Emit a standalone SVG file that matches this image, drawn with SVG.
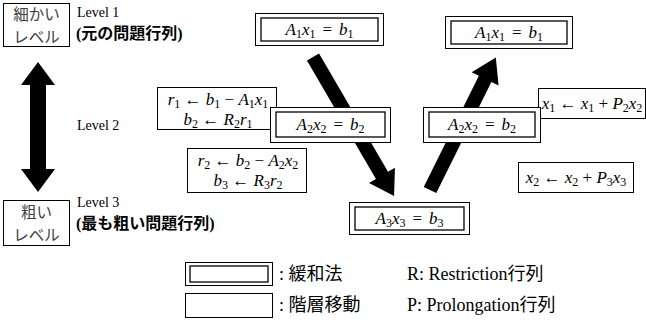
<svg xmlns="http://www.w3.org/2000/svg" width="646" height="320" viewBox="0 0 646 320">
<style>
.bx{fill:#fff;stroke:#000;stroke-width:1}
.ob{fill:#fff;stroke:#000;stroke-width:1}
.ib{fill:none;stroke:#000;stroke-width:1.3}
.jp{font-family:"Noto Sans CJK JP",sans-serif;font-size:15.5px;fill:#404040}
.lv{font-family:"Liberation Serif","Noto Sans CJK JP",serif;font-size:14px;fill:#000}
.lvb{font-family:"Liberation Serif","Noto Sans CJK JP",serif;font-size:16px;fill:#000;font-weight:bold}
.m{font-family:"Liberation Serif","DejaVu Serif",serif;font-size:17px;fill:#000;font-style:italic}
.u{font-style:normal}
.s{font-size:12px;font-style:normal}
.lg{font-family:"Liberation Serif","Noto Sans CJK JP",serif;font-size:18px;fill:#000}
.ar{fill:#000}
</style>

<g id="connectors">
  <g transform="translate(38,62)">
    <polygon class="ar" points="0,0 17,23 8,23 8,107 17,107 0,130 -17,107 -8,107 -8,23 -17,23"/>
  </g>
  <g transform="translate(313,57) rotate(59.77)">
    <polygon class="ar" points="0,-7 137,-7 137,-15 161,0 137,15 137,7 0,7"/>
  </g>
  <g transform="translate(430,190) rotate(-63.6)">
    <polygon class="ar" points="0,-7 124,-7 124,-15 148,0 124,15 124,7 0,7"/>
  </g>
</g>

<g id="fine-level">
  <rect class="bx" x="3.5" y="3.5" width="66" height="43"/>
  <text class="jp" x="36.5" y="20" text-anchor="middle">細かい</text>
  <text class="jp" x="36.5" y="42.5" text-anchor="middle">レベル</text>
</g>
<g id="level1-label">
  <text class="lv" x="77" y="17">Level 1</text>
  <text class="lvb" x="76" y="39">(元の問題行列)</text>
</g>
<g id="level2-label">
  <text class="lv" x="77" y="130">Level 2</text>
</g>
<g id="coarse-level">
  <rect class="bx" x="3.5" y="200.5" width="66" height="45"/>
  <text class="jp" x="36.5" y="218" text-anchor="middle">粗い</text>
  <text class="jp" x="36.5" y="240.5" text-anchor="middle">レベル</text>
</g>
<g id="level3-label">
  <text class="lv" x="77" y="207">Level 3</text>
  <text class="lvb" x="76" y="229">(最も粗い問題行列)</text>
</g>

<g id="restrict1">
  <rect class="bx" x="157.5" y="87.5" width="119" height="42"/>
  <text class="m" x="218" y="105" text-anchor="middle">r<tspan class="s" dy="3">1</tspan><tspan class="u" dy="-3"> ← </tspan>b<tspan class="s" dy="3">1</tspan><tspan class="u" dy="-3"> − </tspan>A<tspan class="s" dy="3">1</tspan><tspan dy="-3">x</tspan><tspan class="s" dy="3">1</tspan></text>
  <text class="m" x="218" y="125" text-anchor="middle">b<tspan class="s" dy="3">2</tspan><tspan class="u" dy="-3"> ← </tspan>R<tspan class="s" dy="3">2</tspan><tspan dy="-3">r</tspan><tspan class="s" dy="3">1</tspan></text>
</g>

<g id="restrict2">
  <rect class="bx" x="187.5" y="148.5" width="119" height="44"/>
  <text class="m" x="248" y="166" text-anchor="middle">r<tspan class="s" dy="3">2</tspan><tspan class="u" dy="-3"> ← </tspan>b<tspan class="s" dy="3">2</tspan><tspan class="u" dy="-3"> − </tspan>A<tspan class="s" dy="3">2</tspan><tspan dy="-3">x</tspan><tspan class="s" dy="3">2</tspan></text>
  <text class="m" x="248" y="186" text-anchor="middle">b<tspan class="s" dy="3">3</tspan><tspan class="u" dy="-3"> ← </tspan>R<tspan class="s" dy="3">3</tspan><tspan dy="-3">r</tspan><tspan class="s" dy="3">2</tspan></text>
</g>

<g id="smooth-A1-down">
  <rect class="ob" x="255.5" y="13.5" width="128" height="32"/>
  <rect class="ib" x="261" y="18" width="117" height="23"/>
  <text class="m" x="319.5" y="35" text-anchor="middle">A<tspan class="s" dy="3">1</tspan><tspan dy="-3">x</tspan><tspan class="s" dy="3">1</tspan><tspan class="u" dy="-3" dx="7">=</tspan><tspan dx="7">b</tspan><tspan class="s" dy="3">1</tspan></text>
</g>

<g id="smooth-A1-up">
  <rect class="ob" x="445.5" y="16.5" width="127" height="32"/>
  <rect class="ib" x="451" y="21" width="116" height="23"/>
  <text class="m" x="509" y="38" text-anchor="middle">A<tspan class="s" dy="3">1</tspan><tspan dy="-3">x</tspan><tspan class="s" dy="3">1</tspan><tspan class="u" dy="-3" dx="7">=</tspan><tspan dx="7">b</tspan><tspan class="s" dy="3">1</tspan></text>
</g>

<g id="prolong1">
  <rect class="bx" x="538.5" y="88.5" width="107" height="30"/>
  <text class="m" x="592" y="109" text-anchor="middle">x<tspan class="s" dy="3">1</tspan><tspan class="u" dy="-3"> ← </tspan>x<tspan class="s" dy="3">1</tspan><tspan class="u" dy="-3"> + </tspan>P<tspan class="s" dy="3">2</tspan><tspan dy="-3">x</tspan><tspan class="s" dy="3">2</tspan></text>
</g>

<g id="smooth-A2-down">
  <rect class="ob" x="270.5" y="107.5" width="120" height="35"/>
  <rect class="ib" x="276" y="112" width="109" height="25"/>
  <text class="m" x="330.5" y="130" text-anchor="middle">A<tspan class="s" dy="3">2</tspan><tspan dy="-3">x</tspan><tspan class="s" dy="3">2</tspan><tspan class="u" dy="-3" dx="7">=</tspan><tspan dx="7">b</tspan><tspan class="s" dy="3">2</tspan></text>
</g>

<g id="smooth-A2-up">
  <rect class="ob" x="423.5" y="107.5" width="117" height="35"/>
  <rect class="ib" x="429" y="112" width="106" height="25"/>
  <text class="m" x="482" y="130" text-anchor="middle">A<tspan class="s" dy="3">2</tspan><tspan dy="-3">x</tspan><tspan class="s" dy="3">2</tspan><tspan class="u" dy="-3" dx="7">=</tspan><tspan dx="7">b</tspan><tspan class="s" dy="3">2</tspan></text>
</g>

<g id="prolong2">
  <rect class="bx" x="518.5" y="162.5" width="115" height="30"/>
  <text class="m" x="576" y="183" text-anchor="middle">x<tspan class="s" dy="3">2</tspan><tspan class="u" dy="-3"> ← </tspan>x<tspan class="s" dy="3">2</tspan><tspan class="u" dy="-3"> + </tspan>P<tspan class="s" dy="3">3</tspan><tspan dy="-3">x</tspan><tspan class="s" dy="3">3</tspan></text>
</g>

<g id="smooth-A3">
  <rect class="ob" x="349.5" y="202.5" width="120" height="32"/>
  <rect class="ib" x="355" y="207" width="109" height="23"/>
  <text class="m" x="409.5" y="224" text-anchor="middle">A<tspan class="s" dy="3">3</tspan><tspan dy="-3">x</tspan><tspan class="s" dy="3">3</tspan><tspan class="u" dy="-3" dx="7">=</tspan><tspan dx="7">b</tspan><tspan class="s" dy="3">3</tspan></text>
</g>

<g id="legend">
  <rect class="ob" x="185.5" y="262.5" width="87" height="23"/>
  <rect class="ib" x="190" y="266" width="78" height="16"/>
  <text class="lg" x="279" y="280">: 緩和法</text>
  <rect class="bx" x="185.5" y="293.5" width="87" height="24"/>
  <text class="lg" x="279" y="311">: 階層移動</text>
  <text class="lg" x="407" y="280">R: Restriction行列</text>
  <text class="lg" x="407" y="311">P: Prolongation行列</text>
</g>
</svg>
